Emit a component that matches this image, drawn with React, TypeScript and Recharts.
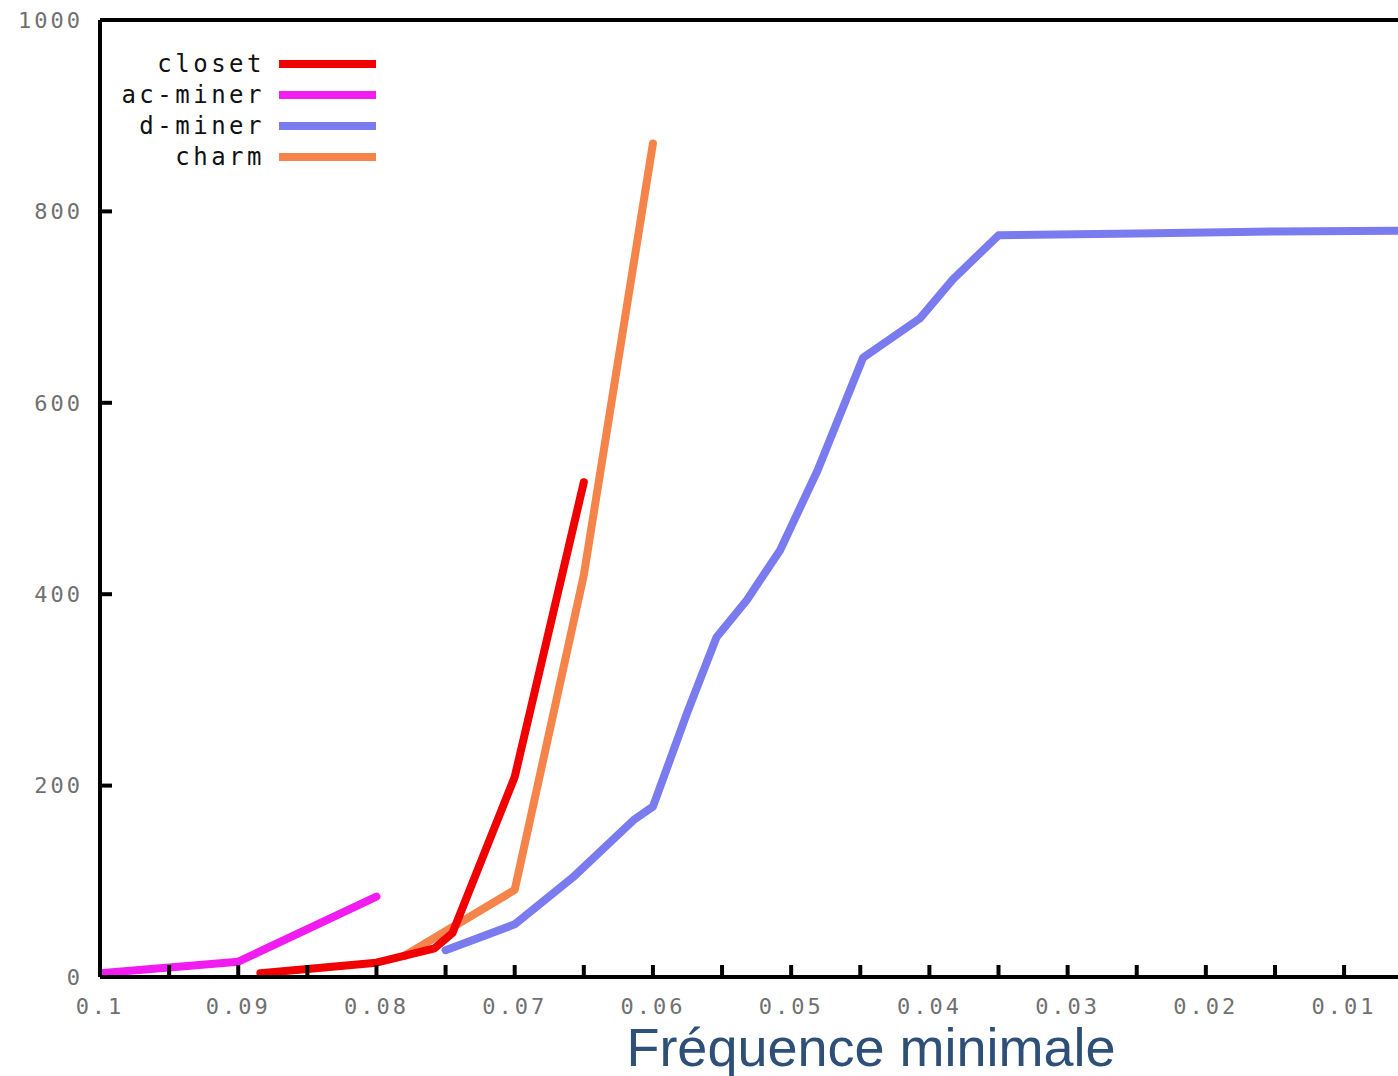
import { LineChart, Line, XAxis, YAxis, Legend, Label } from "recharts";

// minimal frequency (x) vs running time (y)
const closetFreq = [0.0884, 0.08, 0.0758, 0.0745, 0.07, 0.065];
const closetTime = [4, 15, 30, 46, 209, 517];

const acMinerFreq = [0.1, 0.09, 0.08];
const acMinerTime = [4, 16, 84];

const dMinerFreq = [0.075, 0.07, 0.0658, 0.0614, 0.06, 0.0575, 0.0554, 0.0532, 0.0508, 0.0481, 0.0448, 0.0407, 0.0383, 0.035, 0.025, 0.015, 0.005];
const dMinerTime = [28, 55, 104, 164, 178, 277, 355, 394, 446, 529, 647, 688, 729, 775, 777, 779, 780];

const charmFreq = [0.078, 0.07, 0.065, 0.06];
const charmTime = [22, 91, 420, 871];

const xTicks = [0.1, 0.095, 0.09, 0.085, 0.08, 0.075, 0.07, 0.065, 0.06, 0.055, 0.05, 0.045, 0.04, 0.035, 0.03, 0.025, 0.02, 0.015, 0.01];
const yTicks = [0, 200, 400, 600, 800, 1000];

const zip = (f: number[], t: number[]) => f.map((x, i) => ({ f: x, v: t[i] }));

const series = [
  { name: "closet", color: "#f00000", data: zip(closetFreq, closetTime) },
  { name: "ac-miner", color: "#f01cf0", data: zip(acMinerFreq, acMinerTime) },
  { name: "d-miner", color: "#7b7bf0", data: zip(dMinerFreq, dMinerTime) },
  { name: "charm", color: "#f4844a", data: zip(charmFreq, charmTime) },
];

// drawing order: charm underneath, closet on top
const drawOrder = ["charm", "d-miner", "ac-miner", "closet"];

const tickFont = {
  fill: "#707070",
  fontSize: 22,
  fontFamily: "DejaVu Sans Mono",
  letterSpacing: 3,
};

const axisStyle = { stroke: "#000", strokeWidth: 4 };

const fmtX = (v: number) => {
  const k = Math.round(v * 1000);
  if (k % 10 !== 0) return "";
  return String(Math.round(v * 100) / 100);
};

const renderLegend = () => (
  <div style={{ fontFamily: "DejaVu Sans Mono", fontSize: 24, color: "#111", letterSpacing: 3.5 }}>
    {series.map((s) => (
      <div key={s.name} style={{ display: "flex", alignItems: "center", height: 31 }}>
        <span style={{ width: 158, textAlign: "right" }}>{s.name}</span>
        <span style={{ display: "inline-block", marginLeft: 14, width: 97, height: 8, background: s.color }} />
      </div>
    ))}
  </div>
);

const renderTitle = () => (
  <text x={871} y={1066} textAnchor="middle" fill="#2e5078" fontSize={54} fontFamily="Liberation Sans">
    Fréquence minimale
  </text>
);

export default function App() {
  return (
    <div style={{ position: "absolute", left: 0, top: 0, background: "#fff" }}>
      <LineChart width={1398} height={1076} margin={{ top: 19, right: 0, bottom: 39, left: 10 }}>
        <XAxis
          xAxisId="top"
          orientation="top"
          type="number"
          dataKey="f"
          domain={[0.0061, 0.1]}
          reversed
          allowDataOverflow
          ticks={xTicks}
          interval={0}
          tick={false}
          tickSize={-13}
          height={1}
          axisLine={axisStyle}
          tickLine={axisStyle}
        />
        <XAxis
          type="number"
          dataKey="f"
          domain={[0.0061, 0.1]}
          reversed
          allowDataOverflow
          ticks={xTicks}
          interval={0}
          tickFormatter={fmtX}
          tick={tickFont}
          tickSize={-12}
          tickMargin={33}
          height={60}
          axisLine={axisStyle}
          tickLine={axisStyle}
        >
          <Label content={renderTitle} />
        </XAxis>
        <YAxis
          type="number"
          domain={[0, 1000]}
          ticks={yTicks}
          interval={0}
          tick={tickFont}
          tickSize={-12}
          tickMargin={29}
          width={90}
          axisLine={axisStyle}
          tickLine={axisStyle}
        />
        <Legend
          layout="horizontal"
          verticalAlign="middle"
          content={renderLegend}
          wrapperStyle={{ position: "absolute", left: 107, top: 48, width: "auto" }}
        />
        {drawOrder.map((n) => {
          const s = series.find((x) => x.name === n)!;
          return (
            <Line
              key={s.name}
              name={s.name}
              data={s.data}
              dataKey="v"
              type="linear"
              stroke={s.color}
              strokeWidth={8}
              strokeLinejoin="round"
              strokeLinecap="round"
              dot={false}
              activeDot={false}
              isAnimationActive={false}
            />
          );
        })}
      </LineChart>
    </div>
  );
}
